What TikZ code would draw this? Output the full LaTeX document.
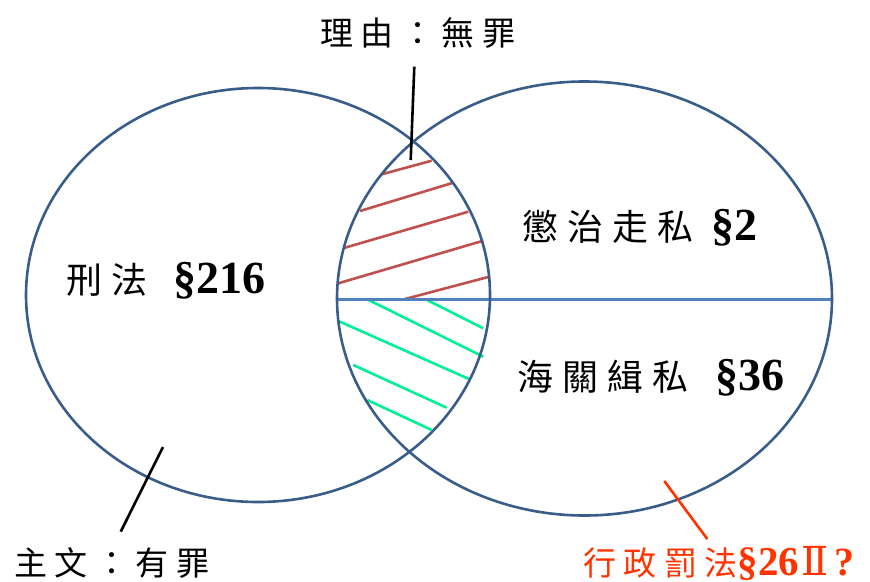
\documentclass[tikz,border=0pt]{standalone}
\usepackage{fontspec}
\setmainfont{Liberation Serif}
\newfontfamily\cjk{Noto Sans CJK TC}
\newfontfamily\romanfont{DejaVu Serif}
\definecolor{ringblue}{RGB}{56,93,138}
\definecolor{lineblue}{RGB}{79,129,189}
\definecolor{hatchred}{RGB}{192,80,77}
\definecolor{hatchgreen}{RGB}{0,240,150}
\definecolor{notered}{RGB}{255,51,0}
\newcommand\cjkgapA{\hspace{9pt}}
\newcommand\cjkgapB{\hspace{7.5pt}}
\newcommand\bigsec{\fontsize{46}{48}\selectfont\bfseries}
\begin{document}
\begin{tikzpicture}[x=1pt,y=-1pt,
  ring/.style={draw=ringblue,line width=2.6pt},
  divider/.style={draw=lineblue,line width=3pt},
  redhatch/.style={draw=hatchred,line width=2.6pt},
  greenhatch/.style={draw=hatchgreen,line width=2.6pt},
  pointer/.style={draw=black,line width=2.6pt},
  redpointer/.style={draw=notered,line width=2.6pt},
  bigtext/.style={anchor=west,inner sep=0pt,font=\fontsize{36}{40}\selectfont},
  smalltext/.style={anchor=west,inner sep=0pt,font=\fontsize{33}{38}\selectfont}]
\useasboundingbox (0,0) rectangle (870,581);
% hatching
\draw[redhatch] (381.7,174.3) -- (431.7,160.7);
\draw[redhatch] (360,211) -- (453.3,182.7);
\draw[redhatch] (345,247.7) -- (468.3,211.7);
\draw[redhatch] (338.3,283.3) -- (483.3,240.7);
\draw[redhatch] (404,299.3) -- (489.3,276.7);
\draw[greenhatch] (425.7,299.3) -- (483.3,328.3);
\draw[greenhatch] (367.3,299.3) -- (483.3,356.7);
\draw[greenhatch] (338.3,321) -- (469,379);
\draw[greenhatch] (353.3,365) -- (446.7,407.7);
\draw[greenhatch] (367.3,400) -- (431.7,430);
% divider
\coordinate (hl) at (337,299);
\coordinate (hr) at (832,299);
\draw[divider] (hl) -- (hr);
% ellipses
\coordinate (L) at (258,295);
\coordinate (R) at (584.5,298.5);
\draw[ring] (L) ellipse [x radius=232, y radius=207];
\draw[ring] (R) ellipse [x radius=247.5, y radius=217];
% labels
\node[smalltext] (reason) at (320,33) {\cjk 理\cjkgapB 由\cjkgapB ：\cjkgapB 無\cjkgapB 罪};
\node[smalltext] (verdict) at (14,563) {\cjk 主\cjkgapB 文\cjkgapB ：\cjkgapB 有\cjkgapB 罪};
\node[smalltext,text=notered] (admin) at (583,563) {{\cjk 行\cjkgapB 政\cjkgapB 罰\cjkgapB 法}{\fontsize{41}{43}\selectfont\bfseries §26}\hspace{2pt}{\fontsize{40}{42}\selectfont\romanfont Ⅱ}\hspace{6pt}{\fontsize{40}{42}\selectfont\bfseries ?}};
\node[bigtext] (criminal) at (66,281) {{\cjk 刑\cjkgapA 法}\hspace{26pt}{\bigsec §216}};
\node[bigtext] (smuggle) at (522,228) {{\cjk 懲\cjkgapA 治\cjkgapA 走\cjkgapA 私}\hspace{18pt}{\bigsec §2}};
\node[bigtext] (customs) at (517,378) {{\cjk 海\cjkgapA 關\cjkgapA 緝\cjkgapA 私}\hspace{27pt}{\bigsec §36}};
% pointers
\coordinate (p1a) at (414.3,66.7);
\coordinate (p1b) at (410.7,160);
\draw[pointer] (p1a) -- (p1b);
\coordinate (p2a) at (163,447);
\coordinate (p2b) at (120.7,531.7);
\draw[pointer] (p2a) -- (p2b);
\coordinate (p3a) at (664.3,481);
\coordinate (p3b) at (707.3,539);
\draw[redpointer] (p3a) -- (p3b);
\end{tikzpicture}
\end{document}
